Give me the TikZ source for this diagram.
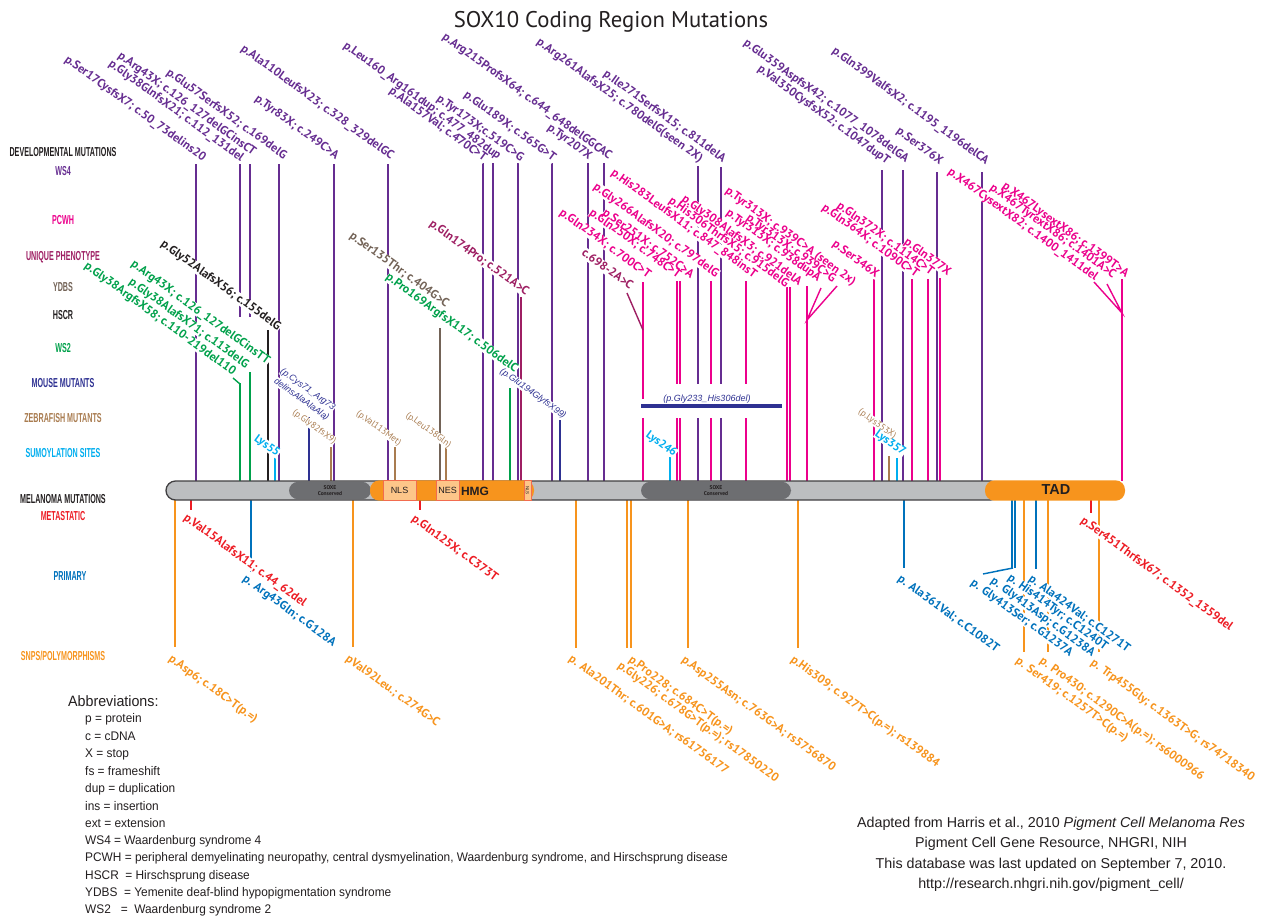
\documentclass[tikz,border=0pt]{standalone}
\usepackage{fontspec}
\setmainfont{Liberation Sans}
\newfontfamily\mutf{PT Sans}
\newfontfamily\condf[FakeStretch=0.55]{Liberation Sans}
\newfontfamily\abbf[FakeStretch=0.95]{Liberation Sans}
\newfontfamily\titlef{PT Sans}
\definecolor{cws4}{HTML}{662D91}
\definecolor{cpcwh}{HTML}{EC008C}
\definecolor{cuniq}{HTML}{9E1F63}
\definecolor{cydbs}{HTML}{736357}
\definecolor{ctext}{HTML}{231F20}
\definecolor{cws2}{HTML}{00A14B}
\definecolor{cmouse}{HTML}{2E3192}
\definecolor{czebra}{HTML}{A97C50}
\definecolor{csumo}{HTML}{00AEEF}
\definecolor{cmet}{HTML}{ED1C24}
\definecolor{cprim}{HTML}{0072BC}
\definecolor{csnp}{HTML}{F7941D}
\definecolor{cbar}{HTML}{BCBEC0}
\definecolor{cbarline}{HTML}{414042}
\definecolor{csoxe}{HTML}{6D6E71}
\definecolor{cbox}{HTML}{FDC689}
\definecolor{cboxline}{HTML}{F26C4F}
\pgfdeclarelayer{bg}
\pgfdeclarelayer{lines}
\pgfdeclarelayer{knock}
\pgfsetlayers{bg,lines,knock,main}
\tikzset{
  vl/.style={line width=2pt},
  ld/.style={line width=1.4pt},
  mutlab/.style={font=\mutf\bfseries\fontsize{12}{13}\selectfont, rotate=-36, inner sep=0.3pt, text height=8.4pt, text depth=2pt},
  zeblab/.style={font=\mutf\fontsize{9}{10}\selectfont, rotate=-36, inner sep=0.3pt, text height=6.3pt, text depth=1.6pt},
  moulab/.style={font=\itshape\fontsize{9}{10}\selectfont, rotate=-36, inner sep=0.3pt, text height=6.5pt, text depth=1.7pt},
  sumlab/.style={font=\mutf\bfseries\fontsize{11.5}{12}\selectfont, rotate=-36, inner sep=0.3pt, text height=8pt, text depth=1.8pt},
  rowlab/.style={font=\condf\bfseries\fontsize{13}{14}\selectfont, inner sep=0pt},
  abblab/.style={font=\abbf\fontsize{12.5}{13}\selectfont, anchor=west, inner sep=0pt, text=ctext},
  foot/.style={font=\fontsize{14.3}{15}\selectfont, inner sep=0pt, text=ctext},
  dombox/.style={draw=cboxline, fill=cbox, line width=1pt, inner sep=0pt, font=\fontsize{9}{10}\selectfont, text=ctext},
}
\newcounter{lbl}
\newcommand\ulab[5][mutlab]{\stepcounter{lbl}%
  \begin{pgfonlayer}{knock}\node[#1,anchor=base east,fill=white] at (#3,#4) {\phantom{#5}};\end{pgfonlayer}%
  \node[#1,anchor=base east,text=#2] (U\thelbl) at (#3,#4) {#5};}
\newcommand\dlab[5][mutlab]{\stepcounter{lbl}%
  \begin{pgfonlayer}{knock}\node[#1,anchor=north west,fill=white] at (#3,#4) {\phantom{#5}};\end{pgfonlayer}%
  \node[#1,anchor=north west,text=#2] (D\thelbl) at (#3,#4) {#5};}
\begin{document}
\begin{tikzpicture}[x=1pt,y=-1pt]
\begin{pgfonlayer}{bg}
\fill[white] (0,0) rectangle (1269,919);
\end{pgfonlayer}
\path[use as bounding box] (0,0) rectangle (1269,919);
% ---------- vertical lines ----------
\begin{pgfonlayer}{lines}
\foreach \x/\t in {196/164,279/164,334/164,388/164,483/163,493/163,518/163,552/163,588/163,604/163,698/166,721/167,882/170,903/170,937/172,982/172}
  \draw[vl,cws4] (\x,\t) -- (\x,481);
\draw[vl,cws4] (240,164) -- (240,317);
\draw[vl,cws4] (250,164) -- (250,317);
\foreach \x/\t in {643/282,677/281,680/281,711/281,746/281,787/287,790/287,807/286,874/279,912/279,928/279,940/278,1122/279}
  \draw[vl,cpcwh] (\x,\t) -- (\x,481);
\draw[vl,cuniq] (521,297) -- (521,481);
\draw[vl,cydbs] (440,328) -- (440,481);
\draw[vl,ctext] (268,330) -- (268,481);
\foreach \x/\t in {240/383,250/372,510/388}
  \draw[vl,cws2] (\x,\t) -- (\x,481);
\foreach \x/\t in {309/417,560/420}
  \draw[vl,cmouse] (\x,\t) -- (\x,481);
\foreach \x/\t in {331/447,395/447,446/447,889/456}
  \draw[vl,czebra] (\x,\t) -- (\x,481);
\foreach \x/\t in {275/457,670/457,897/458}
  \draw[vl,csumo] (\x,\t) -- (\x,481);
% below
\foreach \x/\b in {175/647,353/647,576/648,627/648,631/648,688/648,798/648,1024/652,1048/652,1099/652}
  \draw[vl,csnp] (\x,500) -- (\x,\b);
\foreach \x/\b in {191/510,420/510,1091/513}
  \draw[vl,cmet] (\x,500) -- (\x,\b);
\foreach \x/\b in {251/572,904/568,1012/568,1015/568,1036/569}
  \draw[vl,cprim] (\x,500) -- (\x,\b);
\end{pgfonlayer}
% mouse deletion bar
\begin{pgfonlayer}{knock}
\fill[white] (652,384) rectangle (782,418);
\fill[white] (641,399) rectangle (782,418);
\end{pgfonlayer}
\draw[cmouse, line width=4pt] (641,406) -- (782,406);
\node[font=\itshape\fontsize{9}{10}\selectfont, text=cmouse, inner sep=0pt] (mdel) at (707,399) {(p.Gly233\_His306del)};
% leaders
\draw[ld,cws2] (233,378) -- (240,384);
\draw[ld,cuniq] (627,293) -- (643,330);
\draw[ld,cpcwh] (821,288) -- (807,320) -- (837,286);
\draw[ld,cpcwh] (1094,282) -- (1122,313) -- (1107,284);
\draw[ld,cprim] (983,574) -- (1013,568) -- (997,571);
% ---------- protein bar ----------
\draw[fill=cbar, draw=cbarline, line width=1.3pt, rounded corners=9.5pt] (166,481) rectangle (1000,500);
\fill[csoxe, rounded corners=9pt] (289,481.8) rectangle (371,499.2);
\fill[csoxe, rounded corners=9pt] (641,481.8) rectangle (791,499.2);
\fill[csnp, rounded corners=9.5pt] (370,480.3) rectangle (534,500.7);
\fill[csnp, rounded corners=9.5pt] (985,480.3) rectangle (1125,500.7);
\node[dombox, minimum width=33pt, minimum height=20pt] (nls1) at (399.5,490.5) {NLS};
\node[dombox, minimum width=23pt, minimum height=20pt] (nes) at (447.5,490.5) {NES};
\node[dombox, minimum width=7pt, minimum height=20pt, font=\fontsize{4.5}{5}\selectfont] (nls2) at (527.5,490.5) {\rotatebox{-90}{NLS}};
\node[font=\bfseries\fontsize{12}{13}\selectfont, text=ctext, inner sep=0pt] (hmg) at (475,491) {HMG};
\node[font=\bfseries\fontsize{14.5}{15}\selectfont, text=ctext, inner sep=0pt] (tad) at (1056,490) {TAD};
\node[font=\mutf\bfseries\fontsize{5.5}{6.5}\selectfont, text=ctext, align=center, inner sep=0pt] (sox1) at (330,490.5) {SOXE\\Conserved};
\node[font=\mutf\bfseries\fontsize{5.5}{6.5}\selectfont, text=ctext, align=center, inner sep=0pt] (sox2) at (716,490.5) {SOXE\\Conserved};
% ---------- title ----------
\node[font=\titlef\fontsize{22.7}{25}\selectfont, text=ctext, inner sep=0pt] (title) at (611,22) {SOX10 Coding Region Mutations};
% ---------- row labels ----------
\node[rowlab,text=ctext] (rdev) at (63,152) {DEVELOPMENTAL MUTATIONS};
\node[rowlab,text=cws4] (rws4) at (63,171) {WS4};
\node[rowlab,text=cpcwh] (rpcwh) at (63,220) {PCWH};
\node[rowlab,text=cuniq] (runiq) at (63,257) {UNIQUE PHENOTYPE};
\node[rowlab,text=cydbs] (rydbs) at (63,287) {YDBS};
\node[rowlab,text=ctext] (rhscr) at (63,315) {HSCR};
\node[rowlab,text=cws2] (rws2) at (63,348) {WS2};
\node[rowlab,text=cmouse] (rmouse) at (63,383) {MOUSE MUTANTS};
\node[rowlab,text=czebra] (rzebra) at (63,418) {ZEBRAFISH MUTANTS};
\node[rowlab,text=csumo] (rsumo) at (63,453) {SUMOYLATION SITES};
\node[rowlab,text=ctext] (rmel) at (63,499) {MELANOMA MUTATIONS};
\node[rowlab,text=cmet] (rmet) at (63,516) {METASTATIC};
\node[rowlab,text=cprim] (rprim) at (70,576) {PRIMARY};
\node[rowlab,text=csnp] (rsnp) at (63,656) {SNPS/POLYMORPHISMS};
% ---------- upper labels ----------
\ulab{cws4}{203}{162}{p.Ser17CysfsX7; c.50\_73delins20}
\ulab{cws4}{241}{162}{p.Gly38GlnfsX21; c.112\_131del}
\ulab{cws4}{253}{156}{p.Arg43X; c.126\_127delGCinsCT}
\ulab{cws4}{284}{160}{p.Glu57SerfsX52; c.169delG}
\ulab{cws4}{336}{160}{p.Tyr83X; c.249C>A}
\ulab{cws4}{391}{160}{p.Ala110LeufsX23; c.328\_329delGC}
\ulab{cws4}{484}{162}{p.Ala157Val; c.470C>T}
\ulab{cws4}{498}{160}{p.Leu160\_Arg161dup; c.477\_482dup}
\ulab{cws4}{521}{162}{p.Tyr173X;c.519C>G}
\ulab{cws4}{553}{162}{p.Glu189X; c.565G>T}
\ulab{cws4}{589}{160}{p.Tyr207X}
\ulab{cws4}{609}{160}{p.Arg215ProfsX64; c.644\_648delGGCAC}
\ulab{cws4}{700}{163}{p.Arg261AlafsX25; c.780delG(seen 2X)}
\ulab{cws4}{723}{163}{p.Ile271SerfsX15; c.811delA}
\ulab{cws4}{887}{165}{p.Val350CysfsX52; c.1047dupT}
\ulab{cws4}{906}{163}{p.Glu359AspfsX42; c.1077\_1078delGA}
\ulab{cws4}{940}{165}{p.Ser376X}
\ulab{cws4}{986}{165}{p.Gln399ValfsX2; c.1195\_1196delCA}
\ulab{cpcwh}{648}{279}{p.Gln234X; c.700C>T}
\ulab{cpcwh}{678}{279}{p.Gln250X; c.748C>T}
\ulab{cpcwh}{691}{279}{p.Ser251X; c.752C>A}
\ulab{cpcwh}{716}{278}{p.Gly266AlafsX20; c.797delG}
\ulab{cpcwh}{754}{279}{p.His283LeufsX11; c.847\_848insT}
\ulab{cpcwh}{786}{288}{p.His306ThrfsX5; c.915delG}
\ulab{cpcwh}{799}{286}{p.Gly308AlafsX3; c.921delA}
\ulab{cpcwh}{818}{282}{p.Tyr313X; c.938dupA}
\ulab{cpcwh}{833}{283}{p.Tyr313X; c.939C>G}
\ulab{cpcwh}{853}{286}{p.Tyr313X; c.939C>A (seen 2x)}
\ulab{cpcwh}{876}{278}{p.Ser346X}
\ulab{cpcwh}{916}{278}{p.Gln364X; c.1090C>T}
\ulab{cpcwh}{931}{276}{p.Gln372X; c.1114C>T}
\ulab{cpcwh}{948}{276}{p.Gln377X}
\ulab{cpcwh}{1095}{281}{p.X467CysextX82; c.1400\_1411del}
\ulab{cpcwh}{1113}{279}{p.X467TyrextX86; c.1401A>C}
\ulab{cpcwh}{1126}{278}{p.X467LysextX86; c.1399T>A}
\ulab{cuniq}{526}{296}{p.Gln174Pro; c.521A>C}
\ulab{cuniq}{630}{290}{c.698-2A>C}
\ulab{cydbs}{446}{308}{p.Ser135Thr; c.404G>C}
\ulab{ctext}{278}{331}{p.Gly52AlafsX56; c.155delG}
\ulab{cws2}{515}{373}{p.Pro169ArgfsX117; c.506delC}
\ulab{cws2}{267}{365}{p.Arg43X; c.126\_127delGCinsTT}
\ulab{cws2}{246}{369}{p.Gly38AlafsX71; c.113delG}
\ulab{cws2}{233}{376}{p.Gly38ArgfsX58; c.110-219del110}
\ulab[sumlab]{csumo}{277}{457}{Lys55}
\ulab[sumlab]{csumo}{674}{457}{Lys246}
\ulab[sumlab]{csumo}{903}{456}{Lys357}
\ulab[moulab]{cmouse}{333}{411}{(p.Cys71\_Arg73}
\ulab[moulab]{cmouse}{327}{421}{delinsAlaAlaAla)}
\ulab[moulab]{cmouse}{564}{419}{(p.Glu194GlyfsX99)}
\ulab[zeblab]{czebra}{334}{444}{(p.Gly82fsX9)}
\ulab[zeblab]{czebra}{399}{446}{(p.Val113Met)}
\ulab[zeblab]{czebra}{449}{448}{(p.Leu138Gln)}
\ulab[zeblab]{czebra}{894}{439}{(p.Lys353X)}
% ---------- lower labels ----------
\dlab{cmet}{188}{512}{p.Val15AlafsX11; c.44\_62del}
\dlab{cprim}{247}{573}{p. Arg43Gln; c.G128A}
\dlab{csnp}{173}{653}{p.Asp6; c.18C>T(p.=)}
\dlab{csnp}{350}{653}{pVal92Leu.; c.274G>C}
\dlab{cmet}{416}{513}{p.Gln125X; c.C373T}
\dlab{csnp}{573}{653}{p. Ala201Thr; c.601G>A; rs61756177}
\dlab{csnp}{633}{654}{p.Pro228; c.684C>T(p.=)}
\dlab{csnp}{622}{660}{p.Gly226; c.678G>T(p.=); rs17850220}
\dlab{csnp}{686}{654}{p.Asp255Asn; c.763G>A; rs5756870}
\dlab{csnp}{795}{654}{p.His309; c.927T>C(p.=); rs139884}
\dlab{cprim}{902}{573}{p. Ala361Val; c.C1082T}
\dlab{cprim}{975}{577}{p. Gly413Ser; c.G1237A}
\dlab{cprim}{995}{575}{p. Gly413Asp; c.G1238A}
\dlab{cprim}{1012}{572}{p. His414Tyr; c.C1240T}
\dlab{cprim}{1033}{573}{p. Ala424Val; c.C1271T}
\dlab{csnp}{1020}{655}{p. Ser419; c.1257T>C(p.=)}
\dlab{csnp}{1044}{655}{p. Pro430; c.1290C>A(p.=); rs6000966}
\dlab{cmet}{1085}{515}{p.Ser451ThrfsX67; c.1352\_1359del}
\dlab{csnp}{1095}{657}{p. Trp455Gly; c.1363T>G; rs74718340}
% ---------- abbreviations ----------
\node[abblab, font=\abbf\fontsize{15}{16}\selectfont] (abbr) at (68,701) {Abbreviations:};
\node[abblab] (a1) at (85,719) {p = protein};
\node[abblab] (a2) at (85,736) {c = cDNA};
\node[abblab] (a3) at (85,754) {X = stop};
\node[abblab] (a4) at (85,771) {fs = frameshift};
\node[abblab] (a5) at (85,789) {dup = duplication};
\node[abblab] (a6) at (85,806) {ins = insertion};
\node[abblab] (a7) at (85,823) {ext = extension};
\node[abblab] (a8) at (85,841) {WS4 = Waardenburg syndrome 4};
\node[abblab] (a9) at (85,858) {PCWH = peripheral demyelinating neuropathy, central dysmyelination, Waardenburg syndrome, and Hirschsprung disease};
\node[abblab] (a10) at (85,876) {HSCR\ \ = Hirschsprung disease};
\node[abblab] (a11) at (85,893) {YDBS\ \ = Yemenite deaf-blind hypopigmentation syndrome};
\node[abblab] (a12) at (85,910) {WS2\ \ \ =\ \ Waardenburg syndrome 2};
% ---------- footer ----------
\node[foot] (f1) at (1051,824) {Adapted from Harris et al., 2010 \textit{Pigment Cell Melanoma Res}};
\node[foot] (f2) at (1051,844) {Pigment Cell Gene Resource, NHGRI, NIH};
\node[foot] (f3) at (1051,865) {This database was last updated on September 7, 2010.};
\node[foot] (f4) at (1051,885) {http://research.nhgri.nih.gov/pigment\_cell/};
\end{tikzpicture}
\end{document}
